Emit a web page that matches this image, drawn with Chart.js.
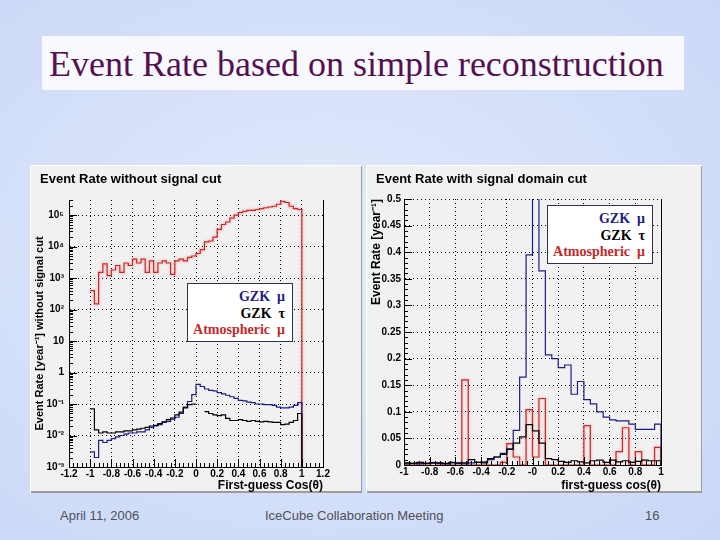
<!DOCTYPE html>
<html>
<head>
<meta charset="utf-8">
<script src="https://cdn.jsdelivr.net/npm/chart.js@4.4.1/dist/chart.umd.min.js"></script>
<style>
html, body { margin:0; padding:0; }
body {
    width:720px; height:540px; position:relative; overflow:hidden;
    background: radial-gradient(ellipse at 45% 48%, #e3eafb 0%, #d7e1f9 45%, #cad8f7 100%);
    font-family: "Liberation Sans", Arial, sans-serif;
}
#titleBox { position:absolute; left:42px; top:36px; width:642px; height:54px; background:#f8f9fe; }
#titleBox span {
    position:absolute; left:7px; top:10px; white-space:nowrap; line-height:36px;
    font-family:"Liberation Serif","Times New Roman",serif; font-size:36px; color:#55104f;
}
.panel {
    position:absolute; top:165px; height:328px; background:#f1f1f1;
    box-shadow: inset 1px 1px 0 #ffffff, inset -1px -2px 0 #9c9c9c;
}
.panel canvas { position:absolute; left:0; top:0; }
.ptitle { position:absolute; left:10px; top:6px; font-weight:bold; font-size:13px; color:#000; white-space:nowrap; }
.legend {
    position:absolute; background:#fff; border:1px solid #30304a; box-sizing:border-box;
    font-family:"Liberation Serif","Times New Roman",serif; font-weight:bold; font-size:14px;
    text-align:right; padding:5px 7px 0 0; line-height:16.5px;
}
.footer { position:absolute; top:508px; font-size:13px; color:#50505a; white-space:nowrap; }
</style>
</head>
<body>

<div id="titleBox"><span>Event Rate based on simple reconstruction</span></div>

<div class="panel" style="left:30px; width:332px;">
    <canvas id="leftChart" width="332" height="328"></canvas>
    <div class="ptitle">Event Rate without signal cut</div>
    <div class="legend" style="left:157px; top:118px; width:106px; height:59px;">
        <div style="color:#1c1c86">GZK&nbsp; μ</div>
        <div style="color:#000">GZK&nbsp; τ</div>
        <div style="color:#c42a2a">Atmospheric&nbsp; μ</div>
    </div>
</div>

<div class="panel" style="left:366px; width:336px;">
    <canvas id="rightChart" width="336" height="328"></canvas>
    <div class="ptitle">Event Rate with signal domain cut</div>
    <div class="legend" style="left:181px; top:40px; width:106px; height:59px;">
        <div style="color:#1c1c86">GZK&nbsp; μ</div>
        <div style="color:#000">GZK&nbsp; τ</div>
        <div style="color:#c42a2a">Atmospheric&nbsp; μ</div>
    </div>
</div>

<div class="footer" style="left:60px;">April 11, 2006</div>
<div class="footer" style="left:265px;">IceCube Collaboration Meeting</div>
<div class="footer" style="left:645px;">16</div>

<script>
// ===============================
// DATA
// ===============================

// left panel: no signal cut, bins of 0.04 from -1 to 1
const leftStart = -1;
const leftBinWidth = 0.04;

const leftAtmMu = [
    400, 150, 1500, 2800, 1200, 1800, 2500, 1500, 3000, 2500,
    4000, 3000, 4000, 1500, 3500, 1500, 3000, 3500, 3000, 1300,
    3500, 4000, 3500, 4500, 5000, 6000, 8000, 14000, 15000, 20000,
    35000, 50000, 60000, 80000, 100000, 120000, 130000, 140000, 140000, 150000,
    160000, 170000, 180000, 190000, 220000, 270000, 250000, 190000, 160000, 150000
];
const leftGzkMu = [
    0.003, 0.002, 0.007, 0.006, 0.007, 0.008, 0.009, 0.010, 0.011, 0.012,
    0.012, 0.013, 0.013, 0.015, 0.018, 0.020, 0.022, 0.026, 0.028, 0.033,
    0.038, 0.050, 0.080, 0.120, 0.200, 0.420, 0.360, 0.300, 0.270, 0.260,
    0.230, 0.210, 0.190, 0.170, 0.150, 0.130, 0.125, 0.115, 0.110, 0.100,
    0.100, 0.095, 0.095, 0.090, 0.080, 0.075, 0.075, 0.080, 0.090, 0.110
];
const leftGzkTau = [
    0.070, 0.015, 0.012, 0.013, 0.012, 0.012, 0.013, 0.013, 0.014, 0.014,
    0.015, 0.016, 0.017, 0.018, 0.020, 0.021, 0.024, 0.027, 0.032, 0.036,
    0.045, 0.055, 0.075, 0.095, 0.100, null, null, 0.057, 0.050, 0.045,
    0.043, 0.045, 0.035, 0.030, 0.030, 0.032, 0.030, 0.028, 0.030, 0.028,
    0.027, 0.028, 0.027, 0.026, 0.026, 0.022, 0.023, 0.026, 0.030, 0.050
];

const leftXTicks = [-1.2, -1, -0.8, -0.6, -0.4, -0.2, 0, 0.2, 0.4, 0.6, 0.8, 1, 1.2];
const leftXLabels = ["-1.2", "-1", "-0.8", "-0.6", "-0.4", "-0.2", "0", "0.2", "0.4", "0.6", "0.8", "1", "1.2"];
const leftYTicks = [1e-3, 1e-2, 1e-1, 1, 10, 1e2, 1e3, 1e4, 1e5];
const leftYLabels = ["10⁻³", "10⁻²", "10⁻¹", "1", "10", "10²", "10³", "10⁴", "10⁵"];
const leftYMin = 1e-3;
const leftYMax = 3e5;

// right panel: signal domain cut, bins of 0.05 from -1 to 1
const rightStart = -1;
const rightBinWidth = 0.05;

const rightGzkMu = [
    0.002, 0.003, 0.002, 0.003, 0.004, 0.003, 0.002, 0.004, 0.003, 0.002,
    0.004, 0.005, 0.006, 0.010, 0.015, 0.022, 0.030, 0.065, 0.165, 0.395,
    0.550, 0.365, 0.207, 0.200, 0.183, 0.188, 0.133, 0.157, 0.123, 0.115,
    0.100, 0.090, 0.085, 0.083, 0.083, 0.077, 0.067, 0.067, 0.067, 0.077
];
const rightGzkTau = [
    0.004, 0.003, 0.005, 0.003, 0.004, 0.004, 0.003, 0.005, 0.004, 0.004,
    0.010, 0.005, 0.004, 0.012, 0.015, 0.020, 0.030, 0.041, 0.053, 0.076,
    0.064, 0.041, 0.012, 0.010, 0.007, 0.005, 0.008, 0.006, 0.004, 0.008,
    0.009, 0.005, 0.009, 0.006, 0.008, 0.005, 0.007, 0.009, 0.008, 0.008
];
const rightAtmMu = [
    0.002, 0, 0.003, 0.002, 0.004, 0.002, 0.002, 0, 0, 0.160,
    0, 0, 0, 0, 0, 0.005, 0.040, 0.015, 0, 0.104,
    0.015, 0.125, 0, 0, 0, 0, 0, 0, 0.074, 0,
    0, 0, 0, 0.025, 0.070, 0, 0.025, 0, 0, 0.033
];

const rightXTicks = [-1, -0.8, -0.6, -0.4, -0.2, 0, 0.2, 0.4, 0.6, 0.8, 1];
const rightXLabels = ["-1", "-0.8", "-0.6", "-0.4", "-0.2", "-0", "0.2", "0.4", "0.6", "0.8", "1"];
const rightYTicks = [0, 0.05, 0.1, 0.15, 0.2, 0.25, 0.3, 0.35, 0.4, 0.45, 0.5];
const rightYLabels = ["0", "0.05", "0.1", "0.15", "0.2", "0.25", "0.3", "0.35", "0.4", "0.45", "0.5"];

const colMu = "#1c1c86";
const colTau = "#000000";
const colAtm = "#c82a2a";

// ===============================
// HELPERS
// ===============================

// turn bin contents into a step outline (left edge, right edge per bin)
function histPoints(start, width, values, floor){
    const pts = [];
    values.forEach((v, i) => {
        const x0 = start + i * width;
        pts.push({x: x0, y: v});
        pts.push({x: x0 + width, y: v});
    });
    pts.push({x: start + values.length * width, y: floor});
    return pts;
}

function histSet(label, start, width, values, floor, color, glow){
    return {
        label: label,
        data: histPoints(start, width, values, floor),
        borderColor: color,
        borderWidth: 1.2,
        pointRadius: 0,
        tension: 0,
        fill: false,
        spanGaps: false,
        glow: glow
    };
}

// pinkish halo on the red histogram like the scanned plot
const glowPlugin = {
    id: "glow",
    beforeDatasetDraw(chart, args){
        const ds = chart.data.datasets[args.index];
        chart.ctx.save();
        if (ds.glow){
            chart.ctx.shadowColor = "rgba(240,140,140,0.9)";
            chart.ctx.shadowBlur = 3;
        }
    },
    afterDatasetDraw(chart){
        chart.ctx.restore();
    }
};

// ROOT style frame: solid right edge and tick marks inside the frame
const rootFrame = {
    id: "rootFrame",
    afterDatasetsDraw(chart, args, opts){
        const {ctx, chartArea: a, scales: {x, y}} = chart;
        ctx.save();
        ctx.strokeStyle = "#000";
        ctx.lineWidth = 1;
        ctx.beginPath();
        const rx = Math.round(a.right) + 0.5;
        ctx.moveTo(rx, a.top);
        ctx.lineTo(rx, a.bottom);

        const nx = Math.round((x.max - x.min) / opts.xMinor);
        const rxm = Math.round(opts.xMajor / opts.xMinor);
        for (let k = 0; k <= nx; k++){
            const px = Math.round(x.getPixelForValue(x.min + k * opts.xMinor)) + 0.5;
            const len = k % rxm === 0 ? 8 : 4;
            ctx.moveTo(px, a.bottom);
            ctx.lineTo(px, a.bottom - len);
        }

        if (opts.logY){
            const d0 = Math.floor(Math.log10(y.min));
            const d1 = Math.ceil(Math.log10(y.max));
            for (let d = d0; d <= d1; d++){
                for (let m = 1; m <= 9; m++){
                    const v = m * Math.pow(10, d);
                    if (v < y.min || v > y.max) continue;
                    const py = Math.round(y.getPixelForValue(v)) + 0.5;
                    ctx.moveTo(a.left, py);
                    ctx.lineTo(a.left + (m === 1 ? 8 : 4), py);
                }
            }
        } else {
            const ny = Math.round((y.max - y.min) / opts.yMinor);
            const rym = Math.round(opts.yMajor / opts.yMinor);
            for (let k = 0; k <= ny; k++){
                const py = Math.round(y.getPixelForValue(y.min + k * opts.yMinor)) + 0.5;
                ctx.moveTo(a.left, py);
                ctx.lineTo(a.left + (k % rym === 0 ? 8 : 4), py);
            }
        }
        ctx.stroke();
        ctx.restore();
    }
};

const tickFont = {family: "Liberation Sans", size: 10, weight: "bold"};
const titleFont = {family: "Liberation Sans", size: 12, weight: "bold"};

function gridOpts(){
    return {color: "#000", lineWidth: 1, drawTicks: false};
}

// ===============================
// LEFT CHART (log)
// ===============================

new Chart(document.getElementById("leftChart"), {
    type: "line",
    data: {
        datasets: [
            histSet("GZK τ", leftStart, leftBinWidth, leftGzkTau, leftYMin / 10, colTau, false),
            histSet("GZK μ", leftStart, leftBinWidth, leftGzkMu, leftYMin / 10, colMu, false),
            histSet("Atmospheric μ", leftStart, leftBinWidth, leftAtmMu, leftYMin / 10, colAtm, true)
        ]
    },
    options: {
        responsive: false,
        animation: false,
        layout: {padding: {left: 0, top: 35, right: 39, bottom: 0}},
        plugins: {
            legend: {display: false},
            tooltip: {enabled: false},
            rootFrame: {xMinor: 0.04, xMajor: 0.2, logY: true}
        },
        scales: {
            x: {
                type: "linear",
                min: -1.2,
                max: 1.2,
                afterBuildTicks: s => { s.ticks = leftXTicks.map(v => ({value: v})); },
                afterFit: s => { s.height = 26; },
                ticks: {
                    color: "#000", font: tickFont, padding: 1, maxRotation: 0, autoSkip: false,
                    callback: (v, i) => leftXLabels[i]
                },
                grid: gridOpts(),
                border: {display: true, color: "#000", width: 1, dash: [1, 3]},
                title: {display: true, text: "First-guess Cos(θ)", align: "end", color: "#000", font: titleFont, padding: 0}
            },
            y: {
                type: "logarithmic",
                min: leftYMin,
                max: leftYMax,
                afterBuildTicks: s => { s.ticks = leftYTicks.map(v => ({value: v})); },
                afterFit: s => { s.width = 39; },
                ticks: {
                    color: "#000", font: tickFont, padding: 5, autoSkip: false,
                    callback: (v, i) => leftYLabels[i]
                },
                grid: gridOpts(),
                border: {display: true, color: "#000", width: 1, dash: [1, 3]},
                title: {display: true, text: "Event Rate [year⁻¹] without signal cut", align: "center", color: "#000",
                        font: {family: "Liberation Sans", size: 11, weight: "bold"}, padding: {top: 3, bottom: 0}}
            }
        }
    },
    plugins: [glowPlugin, rootFrame]
});

// ===============================
// RIGHT CHART (linear)
// ===============================

new Chart(document.getElementById("rightChart"), {
    type: "line",
    data: {
        datasets: [
            histSet("GZK τ", rightStart, rightBinWidth, rightGzkTau, 0, colTau, false),
            histSet("GZK μ", rightStart, rightBinWidth, rightGzkMu, 0, colMu, false),
            histSet("Atmospheric μ", rightStart, rightBinWidth, rightAtmMu, 0, colAtm, true)
        ]
    },
    options: {
        responsive: false,
        animation: false,
        layout: {padding: {left: 0, top: 34, right: 41, bottom: 0}},
        plugins: {
            legend: {display: false},
            tooltip: {enabled: false},
            rootFrame: {xMinor: 0.04, xMajor: 0.2, yMinor: 0.01, yMajor: 0.05, logY: false}
        },
        scales: {
            x: {
                type: "linear",
                min: -1,
                max: 1,
                afterBuildTicks: s => { s.ticks = rightXTicks.map(v => ({value: v})); },
                afterFit: s => { s.height = 28; },
                ticks: {
                    color: "#000", font: tickFont, padding: 1, maxRotation: 0, autoSkip: false,
                    callback: (v, i) => rightXLabels[i]
                },
                grid: gridOpts(),
                border: {display: true, color: "#000", width: 1, dash: [1, 3]},
                title: {display: true, text: "first-guess cos(θ)", align: "end", color: "#000", font: titleFont, padding: 0}
            },
            y: {
                type: "linear",
                min: 0,
                max: 0.5,
                afterBuildTicks: s => { s.ticks = rightYTicks.map(v => ({value: v})); },
                afterFit: s => { s.width = 38; },
                ticks: {
                    color: "#000", font: tickFont, padding: 3, autoSkip: false,
                    callback: (v, i) => rightYLabels[i]
                },
                grid: gridOpts(),
                border: {display: true, color: "#000", width: 1, dash: [1, 3]},
                title: {display: true, text: "Event Rate [year⁻¹]", align: "end", color: "#000",
                        font: titleFont, padding: {top: 3, bottom: 0}}
            }
        }
    },
    plugins: [glowPlugin, rootFrame]
});
</script>
</body>
</html>
